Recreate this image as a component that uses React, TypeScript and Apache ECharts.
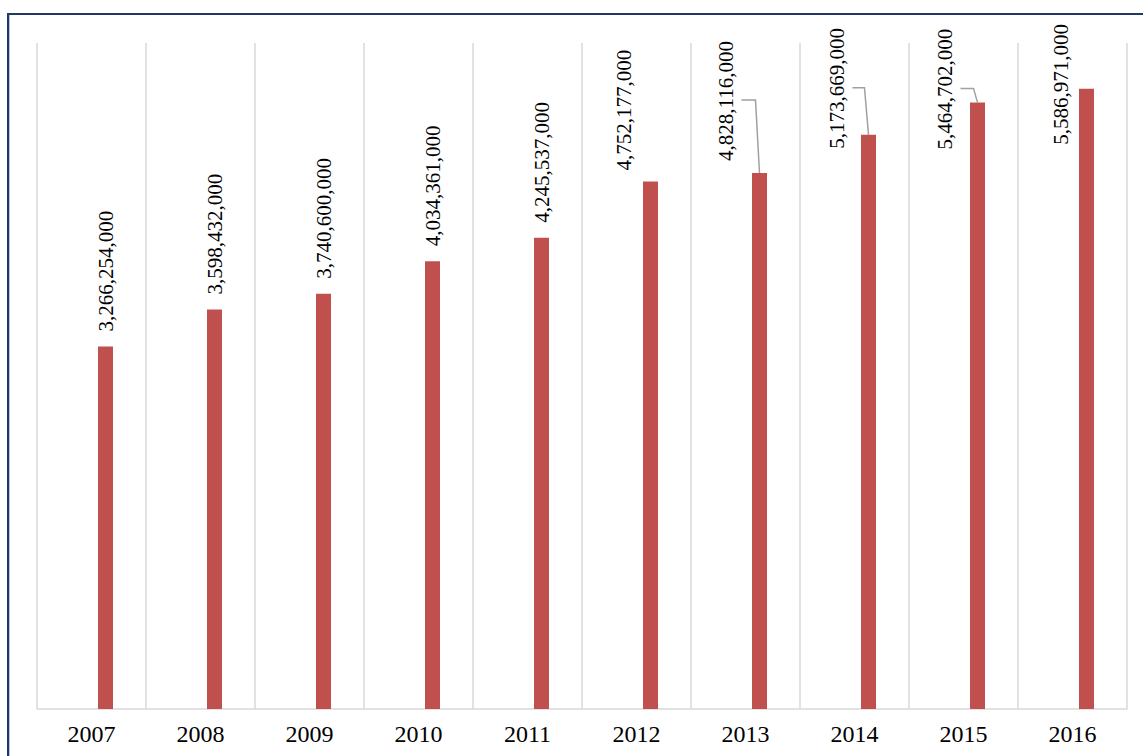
import React, { useEffect, useRef } from 'react';
import * as echarts from 'echarts';

const years = ['2007', '2008', '2009', '2010', '2011', '2012', '2013', '2014', '2015', '2016'];
const values = [3266254000, 3598432000, 3740600000, 4034361000, 4245537000, 4752177000, 4828116000, 5173669000, 5464702000, 5586971000];
const placeholderValues = [null, null, null, null, null, null, null, null, null, null];

// label nudges (px) relative to the default "above the bar" spot
const labelShiftX = [0, 0, 0, 0, 0, -27, -34, -32, -33, -26];
const labelShiftY = [0, 0, 0, 0, 0, 4, 3, 29, 62, 71];
const hasLeader = [false, false, false, false, false, false, true, true, true, false];

const BAR_W = 15;
const BAR_GAP = 13;
const LABEL_DIST = 15;
const LABEL_HALF = 61;

const fmt = (v: number) => v.toLocaleString('en-US');

export default function App() {
  const ref = useRef<HTMLDivElement>(null);
  useEffect(() => {
    if (!ref.current) return;
    const chart = echarts.init(ref.current, undefined, { renderer: 'svg' });
    const font = '"Liberation Serif", "Times New Roman", serif';
    const barOffset = (BAR_W + BAR_GAP) / 2;
    const leaderData = values
      .map((v, i) => [i, v])
      .filter((d) => hasLeader[d[0] as number]);
    chart.setOption({
      animation: false,
      backgroundColor: '#ffffff',
      grid: { left: 27, right: 16, top: 28, bottom: 47, containLabel: false },
      xAxis: {
        type: 'category',
        data: years,
        boundaryGap: true,
        axisLine: { show: true, lineStyle: { color: '#D9D9D9', width: 1.5 } },
        axisTick: { show: false },
        splitLine: { show: true, lineStyle: { color: '#D9D9D9', width: 1.5 } },
        axisLabel: { color: '#000000', fontFamily: font, fontSize: 24, margin: 13 },
      },
      yAxis: { type: 'value', show: false, min: 0, max: 6000000000, splitLine: { show: false } },
      series: [
        {
          type: 'bar',
          data: placeholderValues,
          barWidth: BAR_W,
          barGap: (BAR_GAP / BAR_W) * 100 + '%',
          itemStyle: { color: '#4F81BD' },
        },
        {
          type: 'bar',
          data: values,
          barWidth: BAR_W,
          barGap: (BAR_GAP / BAR_W) * 100 + '%',
          itemStyle: { color: '#C0504D' },
          label: {
            show: true,
            position: 'top',
            distance: LABEL_DIST,
            rotate: 90,
            align: 'left',
            verticalAlign: 'middle',
            fontFamily: font,
            fontSize: 21,
            color: '#000000',
            formatter: (p: any) => fmt(p.value),
          },
        },
        {
          type: 'custom',
          data: leaderData,
          encode: { x: 0, y: 1 },
          silent: true,
          z: 1,
          renderItem: (params: any, api: any) => {
            const i = api.value(0);
            const v = api.value(1);
            const pt = api.coord([i, v]);
            const bx = pt[0] + barOffset;
            const by = pt[1];
            const lx = bx + labelShiftX[i];
            const lb = by - LABEL_DIST + labelShiftY[i];
            const mid = lb - LABEL_HALF;
            return {
              type: 'polyline',
              shape: { points: [[bx, by], [bx - 4, mid], [lx + 16, mid]] },
              style: { stroke: '#A0A0A0', lineWidth: 1.5, fill: 'none' },
            };
          },
        },
      ],
      labelLayout: (params: any) => {
        if (params.seriesIndex !== 1) return {};
        const i = params.dataIndex;
        const r = params.rect;
        const cx = r.x + r.width / 2;
        return { x: cx + labelShiftX[i], y: r.y - LABEL_DIST + labelShiftY[i] };
      },
    });
    return () => chart.dispose();
  }, []);

  return (
    <div
      style={{
        position: 'fixed',
        left: 7,
        top: 13,
        width: 1136,
        height: 743,
        borderLeft: '2px solid #1F3864',
        borderTop: '2px solid #1F3864',
        boxShadow: 'inset 1px 1px 0 #B4C6E7',
        boxSizing: 'border-box',
        background: '#fff',
      }}
    >
      <div ref={ref} style={{ position: 'absolute', left: 1, top: 0, width: 1133, height: 741 }} />
    </div>
  );
}
